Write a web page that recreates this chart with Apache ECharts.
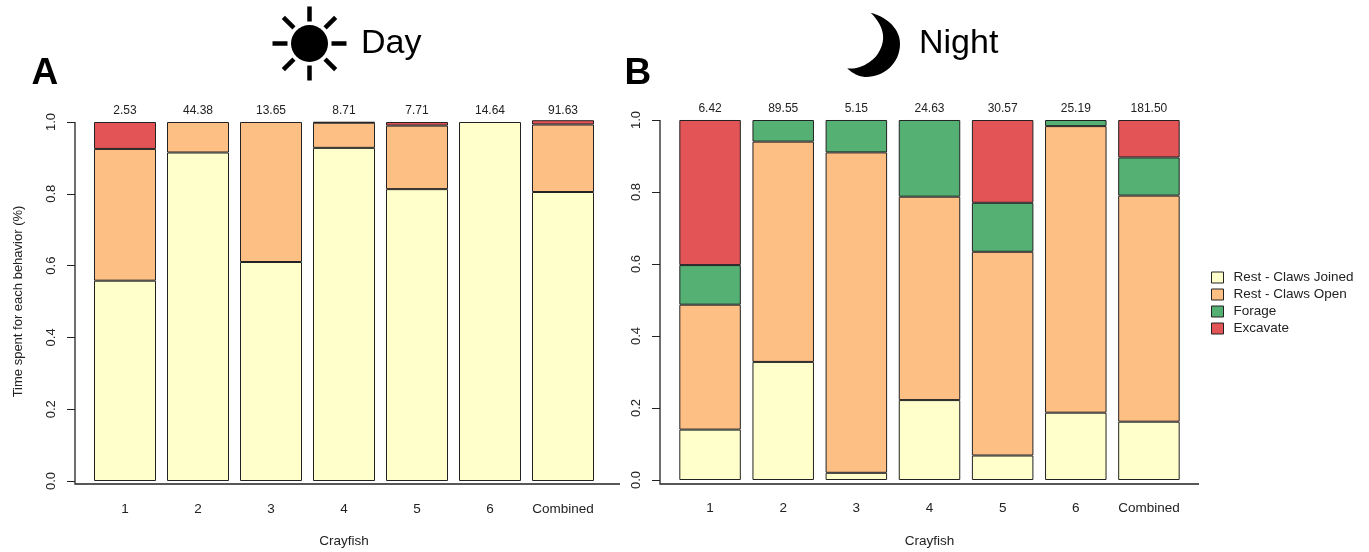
<!DOCTYPE html>
<html><head><meta charset="utf-8">
<style>html,body{margin:0;padding:0;background:#fff}#c{width:1369px;height:552px}</style>
<script src="https://cdn.jsdelivr.net/npm/echarts@6/dist/echarts.min.js"></script>
</head><body><div id="c"></div>
<script>
const categories = ['1','2','3','4','5','6','Combined'];
const seriesNames = ['Rest - Claws Joined','Rest - Claws Open','Forage','Excavate'];
const colors = ['#FFFFCC','#FEBF85','#54B173','#E35457'];

const dayTotals = ['2.53','44.38','13.65','8.71','7.71','14.64','91.63'];
const dayJoined = [0.558,0.915,0.610,0.928,0.813,1.000,0.805];
const dayOpen = [0.367,0.085,0.390,0.070,0.177,null,0.188];
const dayForage = [null,null,null,null,null,null,null];
const dayExcavate = [0.075,null,null,0.002,0.010,null,0.012];

const nightTotals = ['6.42','89.55','5.15','24.63','30.57','25.19','181.50'];
const nightJoined = [0.140,0.328,0.020,0.222,0.068,0.187,0.162];
const nightOpen = [0.347,0.612,0.890,0.565,0.566,0.796,0.628];
const nightForage = [0.110,0.060,0.090,0.213,0.136,0.017,0.106];
const nightExcavate = [0.403,null,null,null,0.230,null,0.104];

const FONT = '"Liberation Sans", Arial, sans-serif';
const INK = '#222';

function bars(name, color, data, axisIndex, width){
  return {name, type:'bar', stack:'s'+axisIndex, data, xAxisIndex:axisIndex*2, yAxisIndex:axisIndex, clip:false,
    barWidth:width, itemStyle:{color, borderColor:INK, borderWidth:1}, emphasis:{disabled:true}};
}
function xAxes(gridIndex, totals, nameGap, topMargin){
  return [
    {gridIndex, type:'category', data:categories, position:'bottom',
     axisLine:{show:false}, axisTick:{show:false}, axisLabel:{interval:0, margin:21, fontSize:13.5, color:INK, fontFamily:FONT},
     name:'Crayfish', nameLocation:'middle', nameGap, nameTextStyle:{fontSize:13.5, color:INK, fontFamily:FONT}},
    {gridIndex, type:'category', data:totals, position:'top',
     axisLine:{show:false}, axisTick:{show:false}, axisLabel:{interval:0, margin:topMargin, fontSize:12, color:INK, fontFamily:FONT}}
  ];
}
function yAxis(gridIndex, name){
  return {gridIndex, type:'value', min:0, max:1, interval:0.2, position:'left',
    offset:0, splitLine:{show:false}, axisLine:{show:false},
    axisTick:{show:true, length:8, lineStyle:{color:INK}},
    axisLabel:{rotate:90, margin:24, fontSize:13, color:INK, fontFamily:FONT, formatter:v=>v.toFixed(1), hideOverlap:false, verticalAlign:'middle', align:'center'},
    name, nameLocation:'middle', nameGap:50, nameTextStyle:{fontSize:13, color:INK, fontFamily:FONT}};
}
function axisL(x0,x1,yTop,yBot){
  return {type:'polyline', shape:{points:[[x0,yTop],[x0,yBot],[x1,yBot]]}, style:{fill:null, stroke:INK, lineWidth:1.3}, silent:true};
}
function sunRays(cx,cy,r0,r1){
  const out=[];
  for(let i=0;i<8;i++){
    const a=i*Math.PI/4;
    out.push({type:'line', shape:{x1:cx+r0*Math.cos(a),y1:cy+r0*Math.sin(a),x2:cx+r1*Math.cos(a),y2:cy+r1*Math.sin(a)}, style:{stroke:'#000',lineWidth:4.5}, silent:true});
  }
  return out;
}
function cubicPoints(segs){
  const pts=[];
  segs.forEach(([a,b,c,d])=>{
    for(let k=0;k<=16;k++){
      const t=k/16,u=1-t;
      pts.push([u*u*u*a[0]+3*u*u*t*b[0]+3*u*t*t*c[0]+t*t*t*d[0], u*u*u*a[1]+3*u*u*t*b[1]+3*u*t*t*c[1]+t*t*t*d[1]]);
    }
  });
  return pts;
}
const moonShape = cubicPoints([
  [[870.7,12.7],[889,18],[900,30],[900,44]],
  [[900,44],[900,63],[884,77],[866,77]],
  [[866,77],[859,77],[852,73],[847.3,68.3]],
  [[847.3,68.3],[857,70],[870,64],[877,55]],
  [[877,55],[886,42],[886,28],[870.7,12.7]]
]);
const chart = echarts.init(document.getElementById('c'), null, {renderer:'canvas'});
chart.setOption({
  animation:false, backgroundColor:'#fff',
  textStyle:{fontFamily:FONT},
  grid:[
    {left:88.5, width:511, top:122, height:359, containLabel:false, outerBoundsMode:'none'},
    {left:673.5, width:512, top:120, height:360, containLabel:false, outerBoundsMode:'none'}
  ],
  xAxis:[...xAxes(0,dayTotals,53,5), ...xAxes(1,nightTotals,54,5)],
  yAxis:[
    Object.assign(yAxis(0,'Time spent for each behavior (%)'),{offset:13.5}),
    Object.assign(yAxis(1,''),{offset:13.5})
  ],
  legend:{show:true, orient:'vertical', left:1206, top:265.5, itemWidth:12, itemHeight:11, itemGap:3,
    data:seriesNames, selectedMode:false, icon:'rect',
    textStyle:{fontSize:13.5, color:INK, fontFamily:FONT, padding:[0,0,0,5]},
    itemStyle:{borderColor:INK, borderWidth:1}},
  series:[
    bars(seriesNames[0],colors[0],dayJoined,0,62),
    bars(seriesNames[1],colors[1],dayOpen,0,62),
    bars(seriesNames[2],colors[2],dayForage,0,62),
    bars(seriesNames[3],colors[3],dayExcavate,0,62),
    bars(seriesNames[0],colors[0],nightJoined,1,61.5),
    bars(seriesNames[1],colors[1],nightOpen,1,61.5),
    bars(seriesNames[2],colors[2],nightForage,1,61.5),
    bars(seriesNames[3],colors[3],nightExcavate,1,61.5)
  ],
  graphic:[
    axisL(75,620,122,484),
    axisL(660,1199,120,484),
    {type:'text', x:31.5, y:55, style:{text:'A', font:'bold 37px '+FONT, fill:'#000'}, silent:true},
    {type:'text', x:624.5, y:55.5, style:{text:'B', font:'bold 37px '+FONT, fill:'#000'}, silent:true},
    {type:'text', x:361, y:27, style:{text:'Day', font:'34px '+FONT, fill:'#000'}, silent:true},
    {type:'text', x:919, y:27, style:{text:'Night', font:'34px '+FONT, fill:'#000'}, silent:true},
    {type:'circle', shape:{cx:309.5,cy:43.5,r:18.5}, style:{fill:'#000'}, silent:true},
    ...sunRays(309.5,43.5,22,37),
    {type:'polygon', silent:true, shape:{points:moonShape}, style:{fill:'#000'}}
  ]
});
</script></body></html>
